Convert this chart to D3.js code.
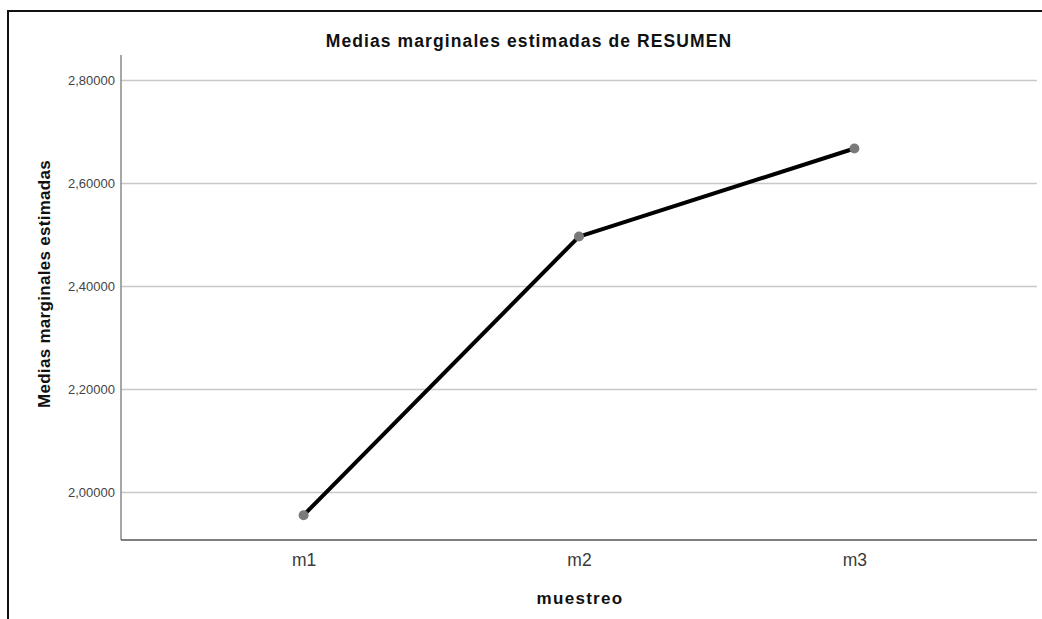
<!DOCTYPE html>
<html>
<head>
<meta charset="utf-8">
<script src="https://cdn.jsdelivr.net/npm/d3@7"></script>
<style>
  html, body { margin: 0; padding: 0; background: #fff; }
  svg { display: block; }
</style>
</head>
<body>
<svg id="chart" width="1042" height="619"></svg>
<script>
const categories = ["m1", "m2", "m3"];
const values = [1.955, 2.496, 2.667];
const yTicks = [2.0, 2.2, 2.4, 2.6, 2.8];
const chartTitle = "Medias marginales estimadas de RESUMEN";
const xTitle = "muestreo";
const yTitle = "Medias marginales estimadas";

const svg = d3.select("#chart");
const pLeft = 121, pRight = 1037, pTop = 55, pBottom = 540;

// outer frame
svg.append("rect").attr("x", 8).attr("y", 11).attr("width", 1200).attr("height", 800)
  .attr("fill", "none").attr("stroke", "#111").attr("stroke-width", 2);

const x = d3.scalePoint().domain(categories).range([pLeft, pRight]).padding(0.663);
const y = d3.scaleLinear().domain([1.9068, 2.8485]).range([pBottom, pTop]);

const fmt = d => d3.format(".5f")(d).replace(".", ",");

// y axis with gridlines
const gy = svg.append("g").attr("transform", `translate(${pLeft},0)`)
  .call(d3.axisLeft(y).tickValues(yTicks).tickSizeInner(-(pRight - pLeft)).tickSizeOuter(0).tickPadding(6).tickFormat(fmt));
gy.select(".domain").remove();
gy.selectAll(".tick line").attr("stroke", "#c8c8c8").attr("stroke-width", 1.5);
gy.selectAll(".tick text").attr("font-family", "Liberation Sans, Arial, sans-serif")
  .attr("font-size", 13).attr("fill", "#444");

// axis lines
svg.append("line").attr("x1", pLeft).attr("x2", pLeft).attr("y1", pTop).attr("y2", pBottom)
  .attr("stroke", "#8a8a8a").attr("stroke-width", 1.5);

const gx = svg.append("g").attr("transform", `translate(0,${pBottom})`)
  .call(d3.axisBottom(x).tickSize(0).tickPadding(14));
gx.select(".domain").remove();
gx.selectAll(".tick text").attr("font-family", "Liberation Sans, Arial, sans-serif")
  .attr("font-size", 17.5).attr("fill", "#3a3a3a");
svg.append("line").attr("x1", pLeft).attr("x2", pRight).attr("y1", pBottom).attr("y2", pBottom)
  .attr("stroke", "#555").attr("stroke-width", 1.5);

// line
const data = categories.map((c, i) => ({c, v: values[i]}));
svg.append("path").datum(data)
  .attr("d", d3.line().x(d => x(d.c)).y(d => y(d.v)))
  .attr("fill", "none").attr("stroke", "#000").attr("stroke-width", 4)
  .attr("stroke-linejoin", "round");
svg.selectAll("circle.pt").data(data).join("circle").attr("class", "pt")
  .attr("cx", d => x(d.c)).attr("cy", d => y(d.v)).attr("r", 5).attr("fill", "#7a7a7a");

// titles
svg.append("text").attr("x", 529).attr("y", 47).attr("text-anchor", "middle")
  .attr("font-family", "Liberation Sans, Arial, sans-serif").attr("font-weight", "bold")
  .attr("font-size", 17.5).attr("letter-spacing", 1.1).attr("fill", "#111").text(chartTitle);

svg.append("text").attr("x", 580).attr("y", 604).attr("text-anchor", "middle")
  .attr("font-family", "Liberation Sans, Arial, sans-serif").attr("font-weight", "bold")
  .attr("font-size", 17).attr("letter-spacing", 1.3).attr("fill", "#111").text(xTitle);

svg.append("text").attr("transform", "translate(50,284) rotate(-90)").attr("text-anchor", "middle")
  .attr("font-family", "Liberation Sans, Arial, sans-serif").attr("font-weight", "bold")
  .attr("font-size", 17).attr("letter-spacing", 0.3).attr("fill", "#111").text(yTitle);
</script>
</body>
</html>
